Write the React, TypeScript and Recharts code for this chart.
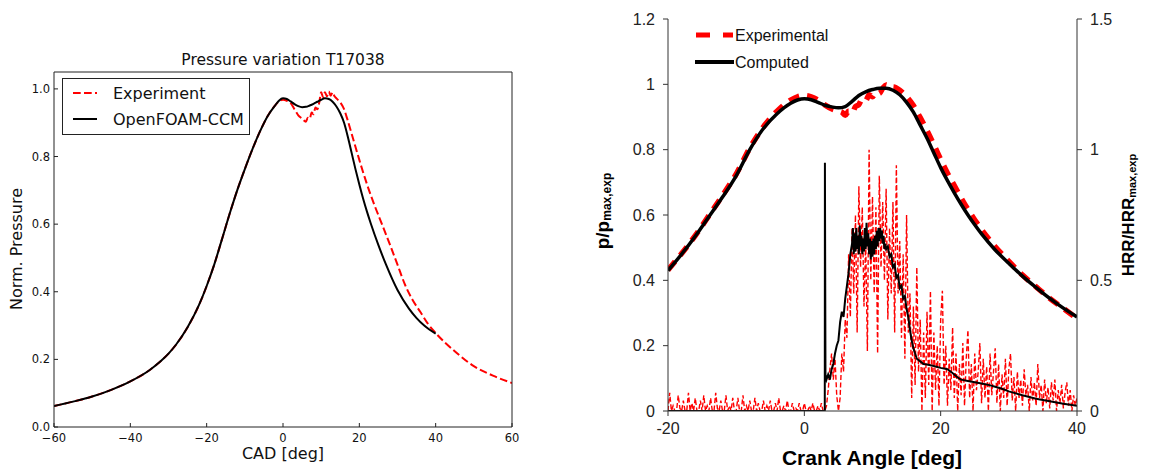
import React from 'react';
import { Line, LineChart, XAxis, YAxis } from 'recharts';

// ---- left panel: normalised pressure, -60..60 CAD ----
const L_X_TICKS = [-60, -40, -20, 0, 20, 40, 60];
const L_Y_TICKS = [0, 0.2, 0.4, 0.6, 0.8, 1.0];

const CCM_DEG = [-60, -55, -50, -45, -40, -35, -32, -30, -28, -25, -22, -20, -18, -16, -14, -12, -10, -8, -6, -4, -2, -1, 0, 1, 2, 3, 4, 5, 6, 7, 8, 9, 10, 11, 12, 13, 14, 15, 16, 17, 18, 19, 20, 21, 22, 23, 25, 27, 30, 33, 35, 37, 40];
const CCM_P = [0.062, 0.075, 0.09, 0.11, 0.135, 0.168, 0.195, 0.217, 0.244, 0.295, 0.361, 0.417, 0.481, 0.555, 0.63, 0.7, 0.763, 0.822, 0.875, 0.92, 0.952, 0.966, 0.972, 0.97, 0.963, 0.955, 0.949, 0.946, 0.947, 0.951, 0.956, 0.962, 0.968, 0.972, 0.97, 0.962, 0.948, 0.928, 0.9, 0.858, 0.81, 0.762, 0.717, 0.675, 0.637, 0.602, 0.538, 0.48, 0.405, 0.35, 0.322, 0.3, 0.276];

const EXP_DEG = [-60, -55, -50, -45, -40, -35, -32, -30, -28, -25, -22, -20, -18, -16, -14, -12, -10, -8, -6, -4, -2, -1, 0, 1, 2, 3, 4, 5, 6, 6.5, 7, 7.5, 8, 8.5, 9, 9.5, 10, 10.5, 11, 11.5, 12, 12.5, 13, 13.5, 14, 15, 16, 17, 18, 19, 20, 22, 24, 26, 28, 30, 32, 34, 36, 38, 40, 45, 50, 55, 60];
const EXP_P = [0.062, 0.075, 0.09, 0.11, 0.135, 0.168, 0.195, 0.217, 0.244, 0.295, 0.361, 0.417, 0.481, 0.555, 0.63, 0.7, 0.763, 0.822, 0.875, 0.92, 0.952, 0.964, 0.968, 0.965, 0.958, 0.94, 0.922, 0.912, 0.903, 0.915, 0.912, 0.93, 0.925, 0.945, 0.94, 0.96, 0.99, 0.975, 0.99, 0.978, 0.992, 0.98, 0.99, 0.978, 0.972, 0.96, 0.94, 0.905, 0.867, 0.828, 0.79, 0.718, 0.655, 0.598, 0.54, 0.48, 0.42, 0.375, 0.34, 0.305, 0.278, 0.224, 0.18, 0.152, 0.13];

// ---- right panel: p/pmax and HRR/HRRmax, -20..40 deg ----
const R_X_TICKS = [-20, 0, 20, 40];
const R_P_TICKS = [0, 0.2, 0.4, 0.6, 0.8, 1, 1.2];
const R_H_TICKS = [0, 0.5, 1, 1.5];

const P_DEG = [-20, -18, -16, -14, -12, -10, -8, -6, -4, -2, -1, 0, 1, 2, 3, 4, 5, 6, 7, 8, 9, 10, 11, 12, 13, 14, 15, 16, 17, 18, 19, 20, 21, 22, 23, 24, 25, 26, 28, 30, 32, 34, 36, 38, 40];
const P_CALC = [0.43, 0.48, 0.535, 0.595, 0.655, 0.72, 0.8, 0.865, 0.91, 0.942, 0.952, 0.956, 0.953, 0.945, 0.936, 0.931, 0.928, 0.932, 0.948, 0.966, 0.977, 0.984, 0.988, 0.988, 0.982, 0.968, 0.945, 0.915, 0.875, 0.835, 0.79, 0.745, 0.705, 0.668, 0.633, 0.6, 0.57, 0.542, 0.493, 0.452, 0.413, 0.378, 0.345, 0.315, 0.288];

const PE_DEG = [-20, -18, -16, -14, -12, -10, -8, -6, -4, -2, -1, 0, 1, 2, 3, 4, 5, 5.5, 6, 6.5, 7, 7.5, 8, 8.5, 9, 9.5, 10, 10.5, 11, 11.5, 12, 12.5, 13, 14, 15, 16, 17, 18, 19, 20, 21, 22, 23, 24, 25, 26, 28, 30, 32, 34, 36, 38, 40];
const P_EXP = [0.432, 0.482, 0.537, 0.598, 0.66, 0.725, 0.805, 0.87, 0.918, 0.952, 0.962, 0.966, 0.962, 0.952, 0.937, 0.925, 0.918, 0.915, 0.905, 0.918, 0.912, 0.932, 0.938, 0.955, 0.95, 0.968, 0.962, 0.975, 0.972, 0.988, 0.998, 0.99, 0.992, 0.982, 0.962, 0.935, 0.898, 0.858, 0.815, 0.77, 0.728, 0.69, 0.652, 0.617, 0.585, 0.555, 0.503, 0.458, 0.416, 0.38, 0.345, 0.314, 0.283];

const HC_DEG = [-20, 3.0, 3.02, 3.1, 3.25, 3.5, 3.75, 4.0, 4.25, 4.5, 4.75, 5.0, 5.25, 5.5, 5.75, 6.0, 6.25, 6.5, 6.75, 7.0, 7.125, 7.25, 7.375, 7.5, 7.625, 7.75, 7.875, 8.0, 8.125, 8.25, 8.375, 8.5, 8.625, 8.75, 8.875, 9.0, 9.125, 9.25, 9.375, 9.5, 9.625, 9.75, 9.875, 10.0, 10.125, 10.25, 10.375, 10.5, 10.625, 10.75, 10.875, 11.0, 11.125, 11.25, 11.375, 11.5, 11.625, 11.75, 11.875, 12.0, 12.25, 12.5, 12.75, 13.0, 13.25, 13.5, 13.75, 14.0, 14.25, 14.5, 14.75, 15.0, 15.25, 15.5, 15.75, 16.0, 16.5, 17.0, 17.5, 18, 19, 20, 21, 21.5, 22, 22.5, 23, 24, 25, 26, 27, 28, 29, 30, 32, 34, 36, 38, 40];
const HRR_CALC = [0, 0, 0.95, 0.14, 0.12, 0.14, 0.12, 0.16, 0.18, 0.22, 0.25, 0.27, 0.34, 0.38, 0.36, 0.43, 0.48, 0.53, 0.6, 0.64, 0.7, 0.6, 0.68, 0.61, 0.7, 0.62, 0.67, 0.6, 0.71, 0.63, 0.67, 0.6, 0.66, 0.61, 0.7, 0.62, 0.72, 0.63, 0.68, 0.6, 0.66, 0.58, 0.65, 0.59, 0.66, 0.6, 0.67, 0.62, 0.69, 0.63, 0.7, 0.65, 0.7, 0.66, 0.69, 0.64, 0.67, 0.62, 0.64, 0.62, 0.63, 0.59, 0.6, 0.55, 0.56, 0.51, 0.52, 0.47, 0.48, 0.43, 0.44, 0.39, 0.36, 0.31, 0.27, 0.24, 0.2, 0.19, 0.18, 0.178, 0.172, 0.165, 0.16, 0.15, 0.14, 0.128, 0.12, 0.115, 0.11, 0.105, 0.1, 0.093, 0.085, 0.075, 0.06, 0.047, 0.037, 0.028, 0.02];

// measured HRR, sampled every 0.25 deg from -20 to 40
const HRR_EXP_START = -20;
const HRR_EXP_STEP = 0.25;
const HRR_EXP = [
  0.0, 0.07, 0.0, 0.02, 0.0, 0.0, 0.06, 0.01, 0.0, 0.04, 0.0, 0.0, 0.07, 0.0, 0.03, 0.0, 0.05, 0.0, 0.0, 0.04,
  0.0, 0.06, 0.0, 0.02, 0.0, 0.05, 0.0, 0.0, 0.07, 0.01, 0.0, 0.04, 0.0, 0.0, 0.06, 0.0, 0.02, 0.0, 0.05, 0.0,
  0.0, 0.05, 0.0, 0.0, 0.06, 0.0, 0.02, 0.0, 0.04, 0.0, 0.0, 0.05, 0.0, 0.03, 0.0, 0.0, 0.04, 0.0, 0.02, 0.0,
  0.04, 0.0, 0.0, 0.03, 0.0, 0.05, 0.0, 0.0, 0.02, 0.0, 0.04, 0.0, 0.0, 0.03, 0.0, 0.01, 0.0, 0.03, 0.0, 0.0,
  0.03, 0.0, 0.0, 0.02, 0.0, 0.03, 0.0, 0.0, 0.02, 0.0, 0.03, 0.0,
  0.0, 0.02, 0.08, 0.16, 0.22, 0.12, 0.2, 0.06, 0.0, 0.05, 0.22, 0.15,
  0.35, 0.28, 0.6, 0.36, 0.7, 0.45, 0.75, 0.3, 0.86, 0.55, 0.78, 0.4, 0.65, 0.23, 1.0, 0.5,
  0.82, 0.45, 0.78, 0.22, 0.9, 0.55, 0.8, 0.5, 0.85, 0.35, 0.7, 0.45, 0.8, 0.3, 0.94, 0.45,
  0.65, 0.28, 0.6, 0.2, 0.75, 0.3, 0.45, 0.05, 0.4, 0.1, 0.55, 0.15, 0.35, 0.0, 0.3, 0.05,
  0.38, 0.1, 0.46, 0.0, 0.3, 0.08, 0.25, 0.02, 0.35, 0.46, 0.1, 0.25, 0.02, 0.2, 0.08, 0.32,
  0.05, 0.22, 0.0, 0.18, 0.06, 0.26, 0.02, 0.2, 0.31, 0.05, 0.18, 0.0, 0.22, 0.08, 0.15, 0.26,
  0.03, 0.2, 0.05, 0.17, 0.0, 0.22, 0.06, 0.15, 0.24, 0.03, 0.18, 0.0, 0.14, 0.05, 0.2, 0.02,
  0.16, 0.22, 0.04, 0.13, 0.0, 0.15, 0.05, 0.12, 0.02, 0.16, 0.06, 0.1, 0.0, 0.13, 0.04, 0.11,
  0.02, 0.18, 0.05, 0.1, 0.0, 0.12, 0.03, 0.09, 0.01, 0.11, 0.04, 0.12, 0.0, 0.08, 0.03, 0.1,
  0.01, 0.07, 0.11, 0.02, 0.08, 0.0, 0.06, 0.02, 0.05,
];

const zip = (xs: number[], ys: number[]) => xs.map((x, i) => ({ x, y: ys[i] }));

const MPL_FONT = 'DejaVu Sans';
const XL_FONT = '"Liberation Sans", Arial';
const FRAME = '#222';
const XL_AXIS = '#333';
const RED = '#ff0000';

const minus = (v: number) => (v < 0 ? `\u2212${Math.abs(v)}` : `${v}`);

function PressureVariation() {
  const tick = { fill: '#111', fontSize: 11.5, fontFamily: MPL_FONT };
  return (
    <div style={{ position: 'absolute', left: 0, top: 0 }}>
      <LineChart width={560} height={470} margin={{ top: 71, right: 47, bottom: 13, left: 10 }}>
        <XAxis
          dataKey="x"
          type="number"
          domain={[-60, 60]}
          ticks={L_X_TICKS}
          interval={0}
          allowDataOverflow
          height={30}
          tick={tick}
          tickFormatter={minus}
          tickSize={-4}
          tickMargin={11}
          axisLine={{ stroke: FRAME }}
          tickLine={{ stroke: FRAME }}
        />
        <XAxis
          xAxisId="top"
          orientation="top"
          type="number"
          domain={[-60, 60]}
          ticks={L_X_TICKS}
          interval={0}
          height={1}
          tick={false}
          tickSize={-4}
          axisLine={{ stroke: FRAME }}
          tickLine={{ stroke: FRAME }}
        />
        <YAxis
          type="number"
          domain={[0, 1.05]}
          ticks={L_Y_TICKS}
          interval={0}
          allowDataOverflow
          width={44}
          tick={tick}
          tickFormatter={(v: number) => v.toFixed(1)}
          tickSize={-4}
          tickMargin={8}
          axisLine={{ stroke: FRAME }}
          tickLine={{ stroke: FRAME }}
        />
        <YAxis
          yAxisId="right"
          orientation="right"
          type="number"
          domain={[0, 1.05]}
          ticks={L_Y_TICKS}
          interval={0}
          width={1}
          tick={false}
          tickSize={-4}
          axisLine={{ stroke: FRAME }}
          tickLine={{ stroke: FRAME }}
        />
        <Line
          data={zip(EXP_DEG, EXP_P)}
          dataKey="y"
          type="monotone"
          stroke={RED}
          strokeWidth={2}
          strokeDasharray="7.7 3.3"
          dot={false}
          isAnimationActive={false}
        />
        <Line
          data={zip(CCM_DEG, CCM_P)}
          dataKey="y"
          type="monotone"
          stroke="#000"
          strokeWidth={2}
          dot={false}
          isAnimationActive={false}
        />
      </LineChart>
    </div>
  );
}

function CrankAngleChart() {
  const tick = { fill: '#222', fontSize: 16, fontFamily: XL_FONT };
  const hrrExp = HRR_EXP.map((y, i) => ({ x: HRR_EXP_START + i * HRR_EXP_STEP, y }));
  return (
    <div style={{ position: 'absolute', left: 560, top: 0 }}>
      <LineChart width={610} height={470} margin={{ top: 19, right: 43, bottom: 29, left: 58 }}>
        <XAxis
          dataKey="x"
          type="number"
          domain={[-20, 40]}
          ticks={R_X_TICKS}
          interval={0}
          allowDataOverflow
          height={30}
          tick={tick}
          tickSize={5}
          tickMargin={7}
          axisLine={{ stroke: XL_AXIS }}
          tickLine={{ stroke: XL_AXIS }}
        />
        <YAxis
          yAxisId="p"
          type="number"
          domain={[0, 1.2]}
          ticks={R_P_TICKS}
          interval={0}
          allowDataOverflow
          width={50}
          tick={tick}
          tickSize={5}
          tickMargin={8}
          axisLine={{ stroke: XL_AXIS }}
          tickLine={{ stroke: XL_AXIS }}
        />
        <YAxis
          yAxisId="h"
          orientation="right"
          type="number"
          domain={[0, 1.5]}
          ticks={R_H_TICKS}
          interval={0}
          allowDataOverflow
          width={50}
          tick={tick}
          tickSize={5}
          tickMargin={8}
          axisLine={{ stroke: XL_AXIS }}
          tickLine={{ stroke: XL_AXIS }}
        />
        <Line
          yAxisId="h"
          data={hrrExp}
          dataKey="y"
          type="linear"
          stroke={RED}
          strokeWidth={1.4}
          strokeDasharray="5 2.5"
          dot={false}
          isAnimationActive={false}
        />
        <Line
          yAxisId="h"
          data={zip(HC_DEG, HRR_CALC)}
          dataKey="y"
          type="linear"
          stroke="#000"
          strokeWidth={2}
          dot={false}
          isAnimationActive={false}
        />
        <Line
          yAxisId="p"
          data={zip(PE_DEG, P_EXP)}
          dataKey="y"
          type="monotone"
          stroke={RED}
          strokeWidth={5.5}
          strokeDasharray="11 8"
          dot={false}
          isAnimationActive={false}
        />
        <Line
          yAxisId="p"
          data={zip(P_DEG, P_CALC)}
          dataKey="y"
          type="monotone"
          stroke="#000"
          strokeWidth={3.5}
          dot={false}
          isAnimationActive={false}
        />
      </LineChart>
    </div>
  );
}

// titles, axis captions and legends
function Captions() {
  return (
    <svg
      width={1170}
      height={470}
      style={{ position: 'absolute', left: 0, top: 0, pointerEvents: 'none' }}
    >
      {/* left panel */}
      <text x={283} y={60} textAnchor="middle" dominantBaseline="central" fontFamily={MPL_FONT} fontSize={15.5} fill="#111">
        Pressure variation T17038
      </text>
      <text x={283} y={453} textAnchor="middle" dominantBaseline="central" fontFamily={MPL_FONT} fontSize={16} fill="#111">
        CAD [deg]
      </text>
      <text transform="translate(16,249) rotate(-90)" textAnchor="middle" dominantBaseline="central" fontFamily={MPL_FONT} fontSize={16} fill="#111">
        Norm. Pressure
      </text>
      <rect x={62.5} y={78.5} width={187} height={56} fill="#fff" stroke={FRAME} strokeWidth={1} />
      <line x1={73} x2={97} y1={93} y2={93} stroke={RED} strokeWidth={2} strokeDasharray="7.7 3.3" />
      <text x={113} y={93} dominantBaseline="central" fontFamily={MPL_FONT} fontSize={16} fill="#111">
        Experiment
      </text>
      <line x1={73} x2={97} y1={119} y2={119} stroke="#000" strokeWidth={2} />
      <text x={113} y={119} dominantBaseline="central" fontFamily={MPL_FONT} fontSize={16} fill="#111">
        OpenFOAM-CCM
      </text>

      {/* right panel */}
      <line x1={696} x2={733} y1={35} y2={35} stroke={RED} strokeWidth={5} strokeDasharray="14 13" />
      <text x={735} y={35} dominantBaseline="central" fontFamily={XL_FONT} fontSize={16} fill="#111">
        Experimental
      </text>
      <line x1={695} x2={734} y1={62} y2={62} stroke="#000" strokeWidth={4} />
      <text x={735} y={62} dominantBaseline="central" fontFamily={XL_FONT} fontSize={16} fill="#111">
        Computed
      </text>
      <text x={872} y={457} textAnchor="middle" dominantBaseline="central" fontFamily={XL_FONT} fontWeight="bold" fontSize={21} fill="#000">
        Crank Angle [deg]
      </text>
      <text transform="translate(602,211) rotate(-90)" textAnchor="middle" dominantBaseline="central" fontFamily={XL_FONT} fontWeight="bold" fontSize={19} fill="#000">
        p/p
        <tspan fontSize={12} dy={5}>max,exp</tspan>
      </text>
      <text transform="translate(1128,215) rotate(-90)" textAnchor="middle" dominantBaseline="central" fontFamily={XL_FONT} fontWeight="bold" fontSize={17} fill="#000">
        HRR/HRR
        <tspan fontSize={11} dy={4}>max,exp</tspan>
      </text>
    </svg>
  );
}

export default function App() {
  return (
    <div style={{ position: 'absolute', left: 0, top: 0, width: 1170, height: 470, background: '#fff', overflow: 'hidden' }}>
      <PressureVariation />
      <CrankAngleChart />
      <Captions />
    </div>
  );
}
